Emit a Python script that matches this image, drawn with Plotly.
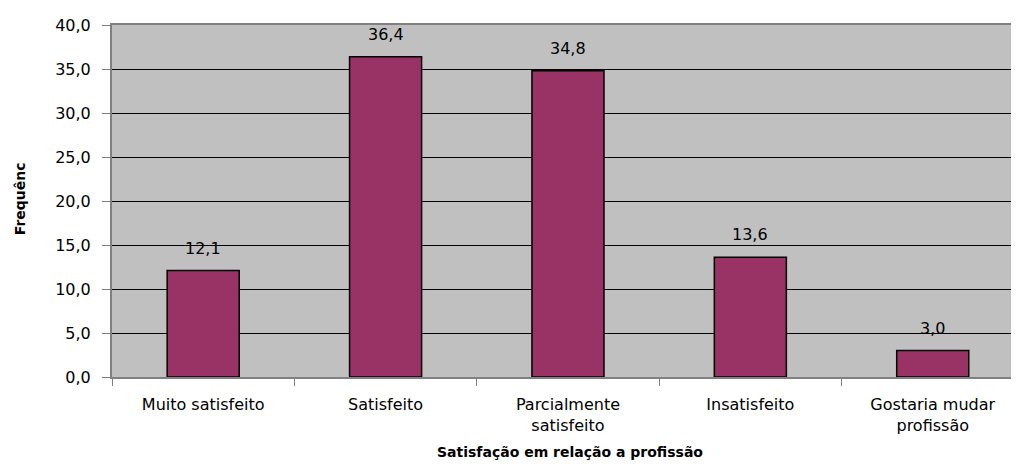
import plotly.graph_objects as go

categories = ["Muito satisfeito", "Satisfeito", "Parcialmente<br>satisfeito",
              "Insatisfeito", "Gostaria mudar<br>profissão"]
values = [12.1, 36.4, 34.8, 13.6, 3.0]
y_ticks = [0, 5, 10, 15, 20, 25, 30, 35, 40]
x_title = "Satisfação em relação a profissão"
y_title = "Frequênc"

FONT = "DejaVu Sans"
xs = list(range(len(categories)))

fig = go.Figure(go.Bar(
    x=xs,
    y=values,
    width=0.395,
    marker=dict(color="#993366", line=dict(color="black", width=1.5)),
    cliponaxis=False,
))

fig.update_layout(
    width=1011, height=462,
    margin=dict(l=104, r=0, t=17, b=93),
    paper_bgcolor="white",
    plot_bgcolor="#C0C0C0",
    separators=",.",
    showlegend=False,
    font=dict(family=FONT, size=16, color="black"),
)

fig.update_xaxes(
    tickmode="array",
    tickvals=xs,
    ticktext=categories,
    range=[-0.5, 4.473],
    showgrid=False,
    zeroline=False,
    showline=True, linecolor="#808080", linewidth=2, mirror=True,
    ticks="",
    ticklabelstandoff=12,
    tickfont=dict(family=FONT, size=16, color="black"),
    minor=dict(tickmode="array", tickvals=[-0.5, 0.5, 1.5, 2.5, 3.5, 4.5],
               ticks="outside", ticklen=7, tickcolor="#808080", tickwidth=1,
               showgrid=False),
)

fig.update_yaxes(
    range=[0, 40],
    tickvals=y_ticks,
    tickformat=".1f",
    showgrid=True, gridcolor="black", gridwidth=1,
    zeroline=False,
    showline=True, linecolor="#808080", linewidth=2,
    ticks="outside", ticklen=8, tickcolor="#808080", tickwidth=1,
    ticklabelstandoff=8,
    tickfont=dict(family=FONT, size=16, color="black"),
)

for xv, v in zip(xs, values):
    fig.add_annotation(x=xv, y=v, xref="x", yref="y",
                       text=f"{v:.1f}".replace(".", ","),
                       showarrow=False, yanchor="bottom", yshift=11,
                       font=dict(family=FONT, size=16, color="black"))

fig.add_annotation(text=f"<b>{x_title}</b>", xref="paper", yref="paper",
                   x=0.505, y=-0.214, xanchor="center", yanchor="middle",
                   showarrow=False, font=dict(family=FONT, size=14, color="black"))
fig.add_annotation(text=f"<b>{y_title}</b>", xref="paper", yref="paper",
                   x=-0.1014, y=0.505, xanchor="center", yanchor="middle",
                   textangle=-90, showarrow=False,
                   font=dict(family=FONT, size=14, color="black"))

fig.write_html("out.html")
